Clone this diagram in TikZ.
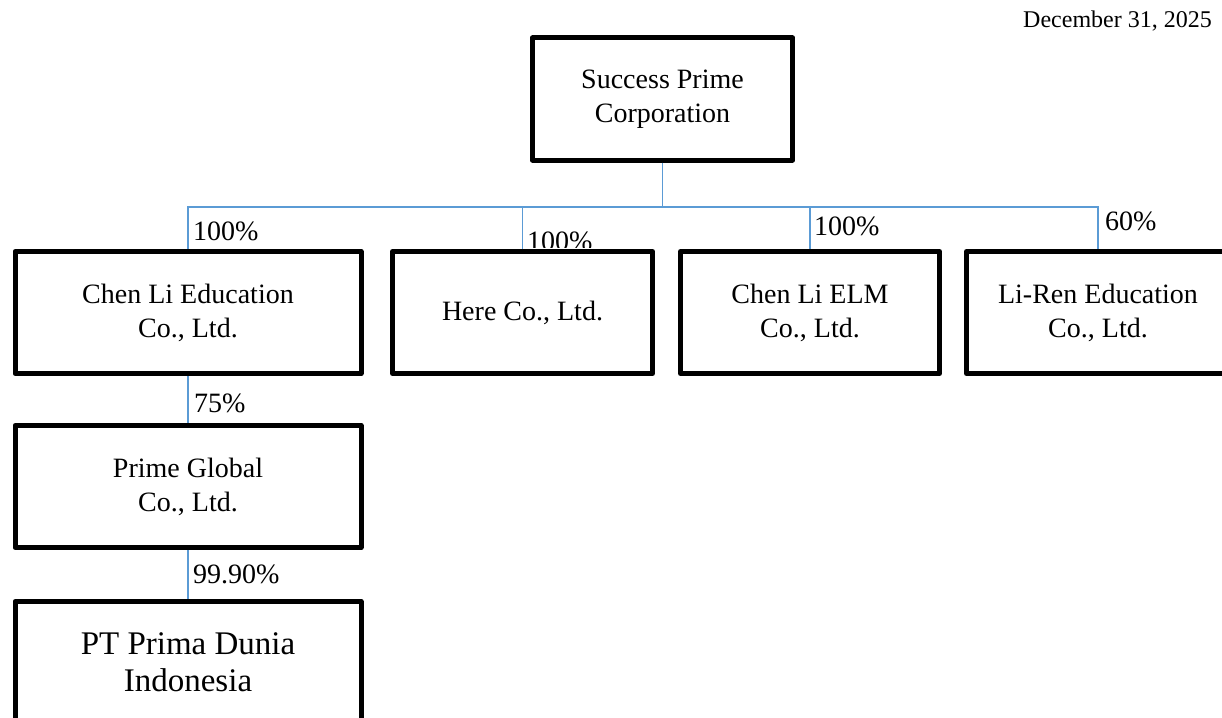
\documentclass[tikz,border=0pt]{standalone}
\usepackage{fontspec}
\setmainfont{Liberation Serif}
\definecolor{conn}{HTML}{5B9BD5}
\tikzset{
  box/.style={draw=black, line width=5pt, line join=round, fill=white, align=center,
    inner sep=0pt, minimum height=122pt, font=\fontsize{28}{34}\selectfont},
  bigbox/.style={box, font=\fontsize{33}{37}\selectfont},
  link/.style={draw=conn, line width=1.8pt},
  pct/.style={anchor=base west, inner sep=0pt, font=\fontsize{28}{30}\selectfont},
}
\begin{document}
\begin{tikzpicture}[x=1pt,y=-1pt]
\useasboundingbox (0,0) rectangle (1222,717);
\node[anchor=base east, inner sep=0pt, font=\fontsize{24}{28}\selectfont] (date) at (1212,28) {December 31, 2025};

\node[box, minimum width=260pt] (top) at (662.5,99) {Success Prime\\Corporation};
\node[box, minimum width=346pt] (b1) at (188,312.5) {Chen Li Education\\Co., Ltd.};
\node[box, minimum width=260pt] (b2) at (522.5,312.5) {Here Co., Ltd.};
\node[box, minimum width=259pt] (b3) at (810,312.5) {Chen Li ELM\\Co., Ltd.};
\node[box, minimum width=263pt] (b4) at (1098,312.5) {Li-Ren Education\\Co., Ltd.};
\node[box, minimum width=346pt] (pg) at (188,486.5) {Prime Global\\Co., Ltd.};
\node[bigbox, minimum width=346pt] (pt) at (188,662.5) {PT Prima Dunia\\Indonesia};

\coordinate (bus) at (662.5,207);
\draw[link] (top.south) -- (top.south |- bus);
\draw[link] (b1.north) |- (b4.north |- bus) -- (b4.north);
\draw[link] (b2.north) -- (b2.north |- bus);
\draw[link] (b3.north) -- (b3.north |- bus);
\draw[link] (b1.south) -- (pg.north);
\draw[link] (pg.south) -- (pt.north);

\begin{scope}
  \clip (0,209) rectangle (1222,247);
  \node[pct] (l1) at (193,240) {100\%};
  \node[pct] (l2) at (527,250) {100\%};
  \node[pct] (l3) at (814,235) {100\%};
  \node[pct] (l4) at (1105,230) {60\%};
\end{scope}
\node[pct] (l5) at (194,412) {75\%};
\node[pct] (l6) at (193,583) {99.90\%};
\end{tikzpicture}
\end{document}
